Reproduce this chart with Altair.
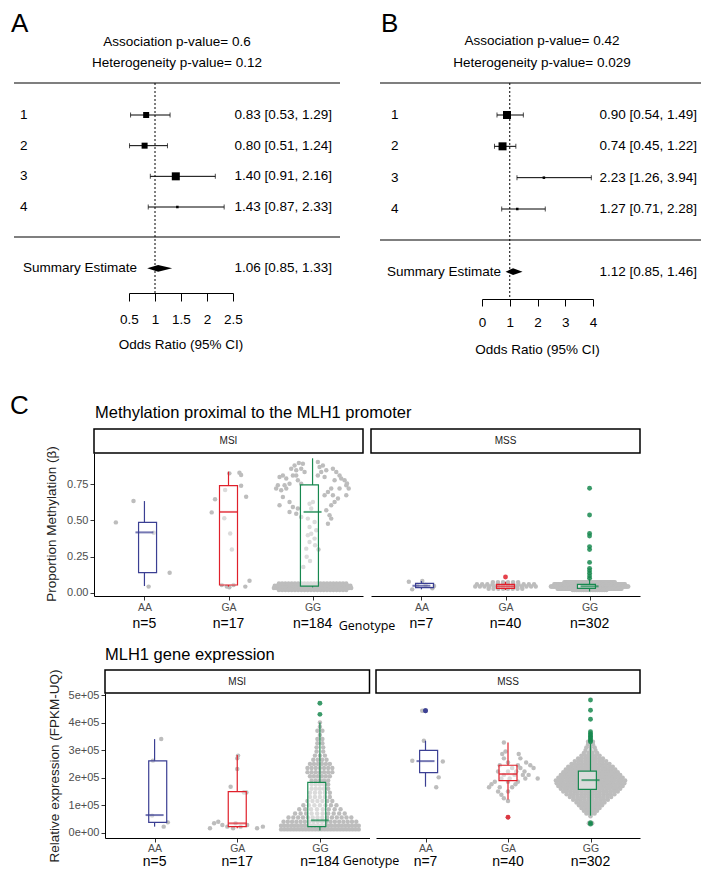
import altair as alt
import pandas as pd

W, H = 693, 862


def px(v):
    # reference-picture pixel -> chart pixel (page has an 8px margin)
    return v - 8


SANS = "Liberation Sans"
ALT = "Open Sans"

# ---------------- Panels A / B : forest plots ----------------
study = ["1", "2", "3", "4"]
a_or = [0.83, 0.80, 1.40, 1.43]
a_lo = [0.53, 0.51, 0.91, 0.87]
a_hi = [1.29, 1.24, 2.16, 2.33]
a_wt = [0.45, 0.45, 0.80, 0.08]
a_sum = [1.06, 0.85, 1.33]
a_ticks = [0.5, 1, 1.5, 2, 2.5]
a_p = ["0.6", "0.12"]

b_or = [0.90, 0.74, 2.23, 1.27]
b_lo = [0.54, 0.45, 1.26, 0.71]
b_hi = [1.49, 1.22, 3.94, 2.28]
b_wt = [0.80, 0.80, 0.08, 0.08]
b_sum = [1.12, 0.85, 1.46]
b_ticks = [0, 1, 2, 3, 4]
b_p = ["0.42", "0.029"]

# ---------------- Panel C : box plots ----------------
geno = ["AA", "GA", "GG"]
geno_col = ["#3b3f93", "#e0202b", "#17884f"]
n_msi = [5, 17, 184]
n_mss = [7, 40, 302]

# box stats: [lower whisker, q1, median, q3, upper whisker]
meth_box_msi = [[0.048, 0.140, 0.418, 0.487, 0.634], [0.044, 0.055, 0.559, 0.740, 0.837], [0.039, 0.048, 0.559, 0.745, 0.929]]
meth_box_mss = [[0.025, 0.037, 0.050, 0.067, 0.083], [0.020, 0.032, 0.046, 0.060, 0.078], [0.010, 0.032, 0.046, 0.060, 0.095]]
meth_out_msi = [[], [], []]
meth_out_mss = [[], [0.11], [0.722, 0.538, 0.411, 0.393, 0.32, 0.30, 0.211, 0.170, 0.154, 0.136, 0.117, 0.101]]

expr_box_msi = [[0.22, 0.375, 0.64, 2.61, 3.40], [0.16, 0.22, 0.34, 1.49, 2.82], [0.08, 0.22, 0.45, 1.83, 4.00]]
expr_box_mss = [[1.67, 2.18, 2.60, 2.99, 3.34], [1.21, 1.89, 2.13, 2.45, 3.28], [0.62, 1.57, 1.91, 2.24, 3.25]]
expr_out_msi = [[], [], [4.70, 4.30]]
expr_out_mss = [[4.43, 4.43], [0.56], [4.82, 4.45, 4.12, 3.67, 3.60, 3.55, 3.50, 3.45, 3.40, 3.35, 3.30, 0.36, 0.31]]

# individual points (values, jitter offsets in category units)
meth_msi_aa = ([0.487, 0.634, 0.416, 0.14, 0.044], [-0.34, -0.13, 0.11, 0.30, 0.05])
meth_msi_ga = ([0.83, 0.825, 0.814, 0.74, 0.646, 0.664, 0.556, 0.515, 0.41, 0.085, 0.044, 0.044, 0.04, 0.71, 0.30, 0.055, 0.055],
               [0.13, 0.01, 0.15, 0.15, -0.16, 0.21, -0.20, -0.05, 0.02, 0.25, 0.20, -0.02, 0.01, -0.04, 0.04, -0.08, 0.06])
meth_msi_gg_top_v = [0.897, 0.892, 0.880, 0.857, 0.846, 0.857, 0.834, 0.811, 0.811, 0.800, 0.789, 0.754, 0.743, 0.743,
                     0.720, 0.708, 0.720, 0.811, 0.777, 0.754,
                     0.903, 0.869, 0.880, 0.834, 0.811, 0.846, 0.800, 0.857, 0.834, 0.811, 0.789, 0.777, 0.777, 0.743,
                     0.720, 0.720, 0.697, 0.674, 0.674, 0.651, 0.628, 0.605, 0.570, 0.674, 0.536, 0.513, 0.478,
                     0.662, 0.628, 0.593, 0.582, 0.547, 0.559, 0.605, 0.524,
                     0.616, 0.628, 0.582, 0.513, 0.490, 0.455, 0.432, 0.398, 0.409, 0.375, 0.352, 0.306,
                     0.25, 0.22, 0.18, 0.33, 0.30, 0.72, 0.755]
meth_msi_gg_top_o = [-0.163, -0.115, -0.214, -0.254, -0.194, -0.135, -0.095, -0.234, -0.353, -0.393, -0.313, -0.274,
                     -0.333, -0.413, -0.433, -0.373, -0.313, -0.194, -0.175, -0.135,
                     0.063, 0.083, 0.123, 0.103, 0.063, 0.163, 0.143, 0.242, 0.282, 0.321, 0.341, 0.262, 0.381, 0.401,
                     0.321, 0.222, 0.183, 0.143, 0.242, 0.302, 0.262, 0.222, 0.163, 0.401, 0.202, 0.222, 0.183,
                     -0.353, -0.274, -0.234, -0.175, -0.194, -0.274, -0.393, -0.135,
                     -0.036, 0.004, -0.016, -0.056, 0.024, -0.036, 0.044, -0.056, -0.016, 0.024, -0.036, -0.075,
                     -0.07, -0.03, -0.11, 0.03, 0.07, 0.43, 0.41]
meth_msi_gg_band = [(0.065, 22, 0.40), (0.05, 31, 0.45), (0.035, 35, 0.46), (0.02, 22, 0.40)]
meth_mss_aa = ([0.078, 0.083, 0.048, 0.025, 0.032, 0.055, 0.055], [-0.15, 0.01, 0.15, -0.11, 0.13, -0.05, 0.05])
meth_mss_ga_band = [(0.075, 6, 0.15), (0.06, 12, 0.34), (0.045, 14, 0.36), (0.03, 8, 0.20)]
meth_mss_gg_band = [(0.075, 50, 0.30), (0.06, 80, 0.42), (0.045, 92, 0.46), (0.03, 60, 0.38), (0.02, 20, 0.20)]

expr_msi_aa = ([3.40, 2.61, 0.62, 0.375, 0.22], [0.08, -0.02, -0.03, 0.16, 0.11])
expr_msi_ga = ([2.80, 2.70, 2.31, 1.67, 1.46, 1.46, 0.40, 0.34, 0.16, 0.28, 0.22, 0.16, 0.22, 0.28, 0.16, 0.22, 0.34],
               [0.01, 0.0, 0.0, -0.08, 0.11, 0.08, -0.23, -0.28, -0.33, -0.18, -0.12, -0.05, 0.04, 0.12, 0.24, 0.31, -0.02])
expr_msi_gg_band = [(4.0, 1, 0), (3.85, 1, 0), (3.7, 2, 0.03), (3.55, 1, 0), (3.4, 2, 0.03), (3.25, 2, 0.03), (3.1, 2, 0.04),
                    (2.95, 2, 0.04), (2.8, 3, 0.06), (2.65, 4, 0.08), (2.5, 6, 0.12), (2.35, 7, 0.15), (2.2, 7, 0.15),
                    (2.05, 6, 0.12), (1.9, 5, 0.10), (1.75, 5, 0.10), (1.6, 5, 0.10), (1.45, 5, 0.12), (1.3, 5, 0.12),
                    (1.15, 6, 0.15), (1.0, 7, 0.20), (0.85, 8, 0.25), (0.7, 10, 0.30), (0.55, 14, 0.38), (0.4, 18, 0.44),
                    (0.25, 24, 0.47), (0.12, 26, 0.47)]
expr_mss_aa = ([4.43, 4.43, 3.34, 2.61, 2.59, 2.01, 1.65], [-0.04, 0.0, -0.02, -0.16, 0.21, 0.16, 0.13])
expr_mss_ga_rows = [
    (3.28, [-0.05]), (2.95, [-0.03]), (2.86, [-0.07, 0.13]), (2.70, [-0.05, 0.15]), (2.55, [0.0, 0.22]),
    (2.45, [-0.10, 0.12, 0.27]), (2.35, [0.05, 0.15, 0.31]), (2.22, [-0.12, 0.0, 0.10, 0.20]),
    (2.10, [-0.05, 0.08, 0.18, 0.25]), (1.97, [-0.08, 0.02, 0.21, 0.36]), (1.85, [-0.16, 0.0, 0.12]),
    (1.76, [-0.20, 0.09]), (1.65, [-0.23, -0.10, 0.05]), (1.50, [-0.12, 0.0]), (1.38, [-0.08]),
    (1.25, [-0.05]), (1.15, [0.0]), (0.56, [0.0]),
]
expr_mss_gg_band = [(3.3, 2, 0.03), (3.2, 2, 0.03), (3.1, 3, 0.05), (3.0, 3, 0.06), (2.9, 4, 0.08), (2.8, 6, 0.11),
                    (2.7, 8, 0.15), (2.6, 10, 0.19), (2.5, 12, 0.23), (2.4, 14, 0.27), (2.3, 16, 0.30), (2.2, 18, 0.33),
                    (2.1, 19, 0.36), (2.0, 20, 0.39), (1.9, 21, 0.42), (1.8, 20, 0.41), (1.7, 19, 0.39), (1.6, 18, 0.36),
                    (1.5, 16, 0.33), (1.4, 14, 0.29), (1.3, 12, 0.25), (1.2, 10, 0.21), (1.1, 9, 0.17), (1.0, 8, 0.14),
                    (0.9, 6, 0.11), (0.8, 5, 0.08), (0.7, 4, 0.05), (0.6, 1, 0.0), (0.34, 2, 0.02)]


def pack(rows):
    vals, offs = [], []
    for v, c, hw in rows:
        for k in range(c):
            vals.append(v)
            offs.append(0.0 if c == 1 else -hw + 2 * hw * k / (c - 1))
    return vals, offs


def expl(rows):
    vals, offs = [], []
    for v, os_ in rows:
        for o in os_:
            vals.append(v)
            offs.append(o)
    return vals, offs


def join(*parts):
    vals, offs = [], []
    for v, o in parts:
        vals += list(v)
        offs += list(o)
    return vals, offs


def txt(s, x, y, size, font=SANS, align="center", color="black", angle=0, baseline="middle"):
    kw = dict(font=font, fontSize=size, align=align, baseline=baseline, color=color)
    if angle:
        kw["angle"] = angle
    return alt.Chart(pd.DataFrame({"s": [s]})).mark_text(**kw).encode(
        x=alt.value(px(x)), y=alt.value(px(y)), text="s:N")


def hline(x0, x1, y, width=1.2):
    return alt.Chart(pd.DataFrame({"k": [0]})).mark_rule(color="black", strokeWidth=width).encode(
        x=alt.value(px(x0)), x2=alt.value(px(x1)), y=alt.value(px(y)))


def forest(letter, lpos, orv, lov, hiv, wt, summ, ticks, pv, xdom, xr, yr, hl, hx, tcx, ty,
           labx, sumx, cix, axis_y, ticklen, lab_pad, ttl_y):
    sx = alt.Scale(domain=xdom, range=[px(xr[0]), px(xr[1])])
    sy = alt.Scale(domain=[1, 4], range=[px(yr[0]), px(yr[1])])
    XQ = lambda f: alt.X(f, type="quantitative", scale=sx, axis=None)
    YQ = lambda f: alt.Y(f, type="quantitative", scale=sy, axis=None)
    df = pd.DataFrame({"row": [1, 2, 3, 4], "lab": study, "or": orv, "lo": lov, "hi": hiv, "wt": wt,
                       "ci": [f"{o:.2f} [{l:.2f}, {h:.2f}]" for o, l, h in zip(orv, lov, hiv)]})
    base = alt.Chart(df)
    L = [
        txt(letter, lpos[0], lpos[1], 26, font=SANS, align="left", baseline="middle"),
        txt(f"Association p-value= {pv[0]}", tcx, ty[0], 13.5),
        txt(f"Heterogeneity p-value= {pv[1]}", tcx, ty[1], 13.5),
        hline(hx[0], hx[1], hl[0]),
        hline(hx[0], hx[1], hl[1]),
        alt.Chart(pd.DataFrame({"v": [1]})).mark_rule(color="black", strokeDash=[2, 2], strokeWidth=1).encode(
            x=XQ("v"), y=alt.value(px(hl[0])), y2=alt.value(px(axis_y))),
        base.mark_rule(color="black", strokeWidth=1).encode(x=XQ("lo"), x2="hi", y=YQ("row")),
        base.mark_tick(orient="vertical", size=5, thickness=1, color="black").encode(x=XQ("lo"), y=YQ("row")),
        base.mark_tick(orient="vertical", size=5, thickness=1, color="black").encode(x=XQ("hi"), y=YQ("row")),
        base.mark_square(color="black", opacity=1).encode(
            x=XQ("or"), y=YQ("row"),
            size=alt.Size("wt:Q", scale=alt.Scale(domain=[0, 1], range=[0, 80]), legend=None)),
        base.mark_text(font=SANS, fontSize=13.5, align="left", baseline="middle").encode(
            x=alt.value(px(labx)), y=YQ("row"), text="lab:N"),
        base.mark_text(font=SANS, fontSize=13.5, align="right", baseline="middle").encode(
            x=alt.value(px(cix)), y=YQ("row"), text="ci:N"),
    ]
    srow = 6
    sdf = pd.DataFrame({"row": [srow], "lab": ["Summary Estimate"],
                        "ci": [f"{summ[0]:.2f} [{summ[1]:.2f}, {summ[2]:.2f}]"]})
    L.append(alt.Chart(sdf).mark_text(font=SANS, fontSize=13.5, align="left", baseline="middle").encode(
        x=alt.value(px(sumx)), y=YQ("row"), text="lab:N"))
    L.append(alt.Chart(sdf).mark_text(font=SANS, fontSize=13.5, align="right", baseline="middle").encode(
        x=alt.value(px(cix)), y=YQ("row"), text="ci:N"))
    ddf = pd.DataFrame({"x": [summ[1], summ[0], summ[2]], "y": [srow, srow - 0.11, srow], "y2": [srow, srow + 0.11, srow]})
    L.append(alt.Chart(ddf).mark_area(color="black", opacity=1).encode(x=XQ("x"), y=YQ("y"), y2="y2"))
    L.append(alt.Chart(pd.DataFrame({"t": ticks})).mark_point(opacity=0).encode(
        x=alt.X("t:Q", scale=sx, axis=alt.Axis(
            orient="bottom", offset=px(axis_y) - H, values=ticks, format="~g", title=None, grid=False,
            domainColor="black", domainWidth=1, tickColor="black", tickWidth=1, tickSize=ticklen,
            labelColor="black", labelFont=SANS, labelFontSize=13.5, labelPadding=lab_pad,
            labelFlush=False, labelOverlap=False))))
    L.append(txt("Odds Ratio (95% CI)", (xr[0] + xr[1]) / 2, ttl_y, 13.5))
    return L


def cpanel(strip, xe, sy, pts, box, outs, ns, n_y, ax_y, strip_y, lab_pad, yaxis=None):
    sx = alt.Scale(domain=[0.4, 3.6], range=[px(xe[0]), px(xe[1])])
    XQ = lambda f: alt.X(f, type="quantitative", scale=sx, axis=None)
    YQ = lambda f: alt.Y(f, type="quantitative", scale=sy, axis=None)
    col = alt.Color("g:N", scale=alt.Scale(domain=geno, range=geno_col), legend=None)
    L = []
    sdf = pd.DataFrame({"s": [strip]})
    L.append(alt.Chart(sdf).mark_rect(fill="white", stroke="black", strokeWidth=1.5).encode(
        x=alt.value(px(xe[0])), x2=alt.value(px(xe[1])), y=alt.value(px(strip_y[0])), y2=alt.value(px(strip_y[1]))))
    L.append(alt.Chart(sdf).mark_text(font=SANS, fontSize=10, color="#1a1a1a", baseline="middle").encode(
        x=alt.value(px((xe[0] + xe[1]) / 2)), y=alt.value(px((strip_y[0] + strip_y[1]) / 2)), text="s:N"))
    rows = []
    for i, (vals, offs) in enumerate(pts):
        for v, o in zip(vals, offs):
            rows.append({"g": geno[i], "x": i + 1 + o, "v": v})
    L.append(alt.Chart(pd.DataFrame(rows)).mark_circle(size=20, color="#bdbdbd", opacity=1).encode(
        x=XQ("x"), y=YQ("v")))
    bdf = pd.DataFrame({"g": geno, "gi": [1, 2, 3], "wlo": [b[0] for b in box], "q1": [b[1] for b in box],
                        "med": [b[2] for b in box], "q3": [b[3] for b in box], "whi": [b[4] for b in box]})
    bb = alt.Chart(bdf)
    L.append(bb.mark_rule(strokeWidth=1.2).encode(x=XQ("gi"), y=YQ("wlo"), y2="q1", color=col))
    L.append(bb.mark_rule(strokeWidth=1.2).encode(x=XQ("gi"), y=YQ("q3"), y2="whi", color=col))
    L.append(bb.mark_bar(size=18, fill="white", fillOpacity=0.45, strokeWidth=1.2).encode(
        x=XQ("gi"), y=YQ("q1"), y2="q3",
        stroke=alt.Stroke("g:N", scale=alt.Scale(domain=geno, range=geno_col), legend=None)))
    L.append(bb.mark_tick(orient="horizontal", size=18, thickness=2).encode(x=XQ("gi"), y=YQ("med"), color=col))
    orows = [{"g": geno[i], "gi": i + 1, "v": v} for i, o in enumerate(outs) for v in o]
    if orows:
        L.append(alt.Chart(pd.DataFrame(orows)).mark_circle(size=24, opacity=0.85).encode(
            x=XQ("gi"), y=YQ("v"), color=col))
    ndf = pd.DataFrame({"gi": [1, 2, 3], "n": [f"n={n}" for n in ns]})
    L.append(alt.Chart(ndf).mark_text(font=SANS, fontSize=14, baseline="middle").encode(
        x=XQ("gi"), y=alt.value(px(n_y)), text="n:N"))
    lab_expr = "[" + ",".join(f"'{g}'" for g in geno) + "][datum.value - 1]"
    L.append(alt.Chart(pd.DataFrame({"gi": [1, 2, 3]})).mark_point(opacity=0).encode(
        x=alt.X("gi:Q", scale=sx, axis=alt.Axis(
            orient="bottom", offset=px(ax_y) - H, values=[1, 2, 3], labelExpr=lab_expr, title=None,
            grid=False, domainColor="black", domainWidth=1, tickColor="#333333", tickSize=4,
            labelColor="#4d4d4d", labelFont=SANS, labelFontSize=10.5, labelPadding=lab_pad,
            labelFlush=False, labelOverlap=False))))
    if yaxis is not None:
        vals, fmt_expr = yaxis
        L.append(alt.Chart(pd.DataFrame({"t": vals})).mark_point(opacity=0).encode(
            y=alt.Y("t:Q", scale=sy, axis=alt.Axis(
                orient="left", offset=-px(xe[0]), values=vals, labelExpr=fmt_expr, title=None, grid=False,
                domainColor="black", domainWidth=1, tickColor="#333333", tickSize=4,
                labelColor="#4d4d4d", labelFont=SANS, labelFontSize=11, labelPadding=2,
                labelFlush=False, labelOverlap=False))))
    return L


layers = []
layers += forest("A", (11, 24), a_or, a_lo, a_hi, a_wt, a_sum, a_ticks, a_p, [0.5, 2.5], [129, 233], [115, 207],
                 [83, 237], [14, 340], 177, [42, 63], 20, 23, 332, 293, 8, 11, 345)
layers += forest("B", (381, 24), b_or, b_lo, b_hi, b_wt, b_sum, b_ticks, b_p, [0, 4], [482, 593], [115, 209],
                 [83, 240], [380, 706], 542, [41, 63], 391, 387, 697, 299, 7, 9, 350)

# C top: methylation
layers.append(txt("C", 10, 406, 26, font=SANS, align="left", baseline="middle"))
layers.append(txt("Methylation proximal to the MLH1 promoter", 95, 413, 16.5, align="left"))
sy_m = alt.Scale(domain=[-0.0207, 0.9655], range=[px(596), px(453)])
meth_msi_pts = [meth_msi_aa, meth_msi_ga, join((meth_msi_gg_top_v, meth_msi_gg_top_o), pack(meth_msi_gg_band))]
meth_mss_pts = [meth_mss_aa, pack(meth_mss_ga_band), pack(meth_mss_gg_band)]
layers += cpanel("MSI", [94, 363], sy_m, meth_msi_pts, meth_box_msi, meth_out_msi, n_msi, 624, 596, [429, 453], 2,
                 yaxis=([0, 0.25, 0.5, 0.75], "format(datum.value, '.2f')"))
layers += cpanel("MSS", [371, 640], sy_m, meth_mss_pts, meth_box_mss, meth_out_mss, n_mss, 624, 596, [429, 453], 2)
layers.append(txt("Proportion Methylation (β)", 52, 524, 13.5, color="#222222", angle=270))
layers.append(txt("Genotype", 367, 626, 12.5, font=ALT))

# C bottom: expression (units of 1e+05)
layers.append(txt("MLH1 gene expression", 105, 655, 16.5, align="left"))
sy_e = alt.Scale(domain=[-0.193, 5.075], range=[px(838), px(693)])
expr_msi_pts = [expr_msi_aa, expr_msi_ga, pack(expr_msi_gg_band)]
expr_mss_pts = [expr_mss_aa, expl(expr_mss_ga_rows), pack(expr_mss_gg_band)]
layers += cpanel("MSI", [105, 369.5], sy_e, expr_msi_pts, expr_box_msi, expr_out_msi, n_msi, 862, 838, [670, 693], 1,
                 yaxis=([0, 1, 2, 3, 4, 5], "datum.value == 0 ? '0e+00' : datum.value + 'e+05'"))
layers += cpanel("MSS", [376, 640], sy_e, expr_mss_pts, expr_box_mss, expr_out_mss, n_mss, 862, 838, [670, 693], 1)
layers.append(txt("Relative expression (FPKM-UQ)", 55, 766, 13.5, color="#222222", angle=270))
layers.append(txt("Genotype", 371, 861, 12.5, font=ALT))

chart = alt.layer(*layers).properties(
    width=W, height=H, autosize=alt.AutoSizeParams(type="none"), padding=0
).resolve_scale(x="independent", y="independent").configure_view(stroke=None)

chart.save("out.html", embed_options={"renderer": "svg", "actions": False})
